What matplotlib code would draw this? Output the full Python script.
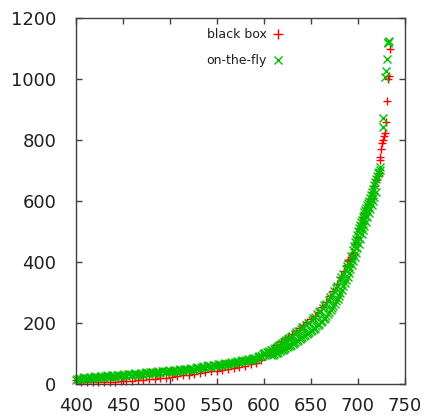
import matplotlib
matplotlib.use("Agg")
import matplotlib.pyplot as plt

# black box (red +)
bb_x = [400, 406, 412, 418, 424, 430, 436, 442, 448, 454, 460, 466, 472, 478,
        484, 490, 496, 502, 508, 514, 520, 526, 532, 538, 544, 550, 556, 562,
        568, 574, 580, 586, 592, 597, 602, 606, 610,
        614, 618, 622, 626, 630, 634, 638, 642, 646, 650, 654, 658, 662, 666,
        670, 674, 678, 682, 685, 688, 690, 691, 692, 693, 694, 695, 697, 699,
        701, 703, 705, 707, 709, 711, 713, 715, 717, 719, 721, 722.5,
        723, 723.5, 724.5, 725.5, 727, 728, 729, 730, 731, 732.5, 733, 734]
bb_y = [12, 8, 8, 8, 8, 8, 8, 8, 9, 10, 11, 12, 14, 16,
        18, 20, 21, 23, 26, 29, 31, 34, 37, 39, 42, 44, 47, 50,
        53, 56, 60, 65, 70, 80, 96, 108, 118,
        129, 138, 146, 155, 164, 173, 183, 193, 203, 213, 224, 236, 252, 268,
        287, 306, 328, 352, 370, 390, 402, 406, 411, 416, 421, 428, 458, 482,
        508, 528, 546, 560, 576, 590, 606, 628, 650, 668, 680, 690,
        735, 745, 770, 790, 800, 812, 822, 858, 928, 1000, 1008, 1098]

# on-the-fly (green x), low part of the curve
otf_low_x = [400, 403, 406, 409, 412, 415, 418, 421, 424, 427, 430, 433, 436, 439,
             442, 445, 448, 451, 454, 457, 460, 463, 466, 469, 472, 475, 478, 481,
             484, 487, 490, 493, 496, 499, 502, 505, 508, 511, 514, 517, 520, 523,
             526, 529, 532, 535, 538, 541, 544, 547, 550, 553, 556, 559, 562, 565,
             568, 571, 574, 577, 580, 583, 586, 589, 592, 595, 598,
             401.5, 404.5, 407.5, 410.5, 413.5, 416.5, 419.5, 422.5, 425.5, 428.5,
             431.5, 434.5, 437.5, 440.5, 443.5, 446.5, 449.5, 452.5, 455.5, 458.5,
             461.5, 464.5, 467.5, 470.5, 473.5, 476.5, 479.5, 482.5, 485.5, 488.5,
             491.5, 494.5, 497.5, 500.5, 503.5, 506.5, 509.5, 512.5, 515.5, 518.5,
             521.5, 524.5, 527.5, 530.5, 533.5, 536.5, 539.5, 542.5, 545.5, 548.5,
             551.5, 554.5, 557.5, 560.5, 563.5, 566.5, 569.5, 572.5, 575.5, 578.5,
             581.5, 584.5, 587.5, 590.5, 593.5, 596.5, 599.5]
otf_low_y = [14, 21, 15, 22, 17, 23, 18, 25, 20, 26, 21, 28, 23, 29,
             24, 31, 25, 32, 27, 34, 28, 35, 30, 36, 31, 38, 33, 40,
             35, 42, 36, 43, 38, 45, 39, 46, 41, 48, 43, 50, 45, 52,
             47, 55, 50, 58, 53, 61, 56, 63, 59, 66, 62, 69, 65, 72,
             68, 75, 71, 78, 74, 82, 78, 86, 83, 93, 91,
             18, 17, 20, 19, 21, 20, 23, 22, 24, 23,
             26, 25, 27, 26, 29, 27, 30, 29, 32, 30,
             33, 32, 34, 33, 36, 35, 38, 37, 40, 38,
             41, 40, 43, 41, 44, 43, 46, 45, 48, 47,
             50, 49, 52, 52, 55, 55, 58, 58, 61, 60,
             64, 63, 67, 66, 70, 69, 73, 72, 76, 75,
             79, 79, 83, 84, 89, 91, 97]

# upper strand (runs with the black box points)
otf_up_x = [600, 603, 606, 609, 612, 615, 618, 621, 624, 627, 630, 633, 636, 639,
            642, 645, 648, 651, 654, 657, 660, 663, 666, 669, 672, 675, 678, 681,
            684, 687, 690, 693, 695, 697, 699, 701, 703, 705, 707, 709, 711, 713,
            715, 717, 719, 721, 723,
            601.5, 604.5, 607.5, 610.5, 613.5, 616.5, 619.5, 622.5, 625.5, 628.5,
            634.5, 640.5, 646.5, 652.5, 658.5, 664.5, 670.5, 676.5, 682.5, 688.5,
            696, 698, 700, 702, 704, 706, 708, 710, 712, 714, 716, 718, 720, 722]
otf_up_y = [100, 104, 108, 113, 119, 125, 132, 139, 145, 151, 158, 165, 172, 180,
            187, 194, 201, 209, 218, 228, 239, 250, 262, 276, 290, 303, 320, 340,
            360, 378, 395, 420, 440, 465, 488, 510, 530, 546, 562, 578, 592, 608,
            630, 652, 672, 690, 700,
            102, 106, 110, 116, 122, 128, 135, 142, 148, 155,
            170, 186, 200, 216, 235, 258, 285, 314, 352, 388,
            452, 476, 500, 520, 538, 554, 570, 585, 600, 618, 640, 662, 680, 695]

# lower strand (on-the-fly only)
otf_lo_x = [608, 611, 614, 617, 620, 623, 626, 629, 632, 635, 638, 641, 644, 647,
            650, 653, 656, 659, 662, 665, 668, 671, 674, 677, 680, 683, 686, 689,
            692, 695, 698, 701, 704, 707, 710, 713, 716, 719,
            609.5, 612.5, 615.5, 618.5, 621.5, 624.5, 627.5, 630.5, 633.5, 636.5,
            639.5, 642.5, 645.5, 648.5, 651.5, 654.5, 657.5, 660.5, 663.5, 666.5,
            669.5, 672.5, 675.5, 678.5, 681.5, 684.5, 687.5, 690.5, 693.5, 696.5,
            699.5, 702.5, 705.5, 708.5, 711.5, 714.5, 717.5]
otf_lo_y = [94, 98, 102, 107, 112, 117, 123, 129, 135, 142, 149, 155, 161, 167,
            173, 181, 189, 198, 207, 217, 229, 241, 255, 271, 289, 309, 330, 352,
            376, 402, 430, 460, 490, 518, 546, 573, 600, 628,
            96, 100, 104, 110, 115, 120, 126, 132, 138, 145,
            152, 158, 164, 170, 177, 185, 193, 202, 212, 223,
            235, 248, 263, 280, 299, 320, 341, 364, 389, 416,
            445, 475, 504, 532, 559, 586, 614]

# sparse points at the top of the curve
otf_top_x = [724, 726.5, 727, 729, 729.5, 730.5, 732, 732.5, 733]
otf_top_y = [712, 843, 870, 1005, 1025, 1064, 1120, 1118, 1124]

otf_x = otf_low_x + otf_up_x + otf_lo_x + otf_top_x
otf_y = otf_low_y + otf_up_y + otf_lo_y + otf_top_y

fig = plt.figure(figsize=(4.24, 4.19), dpi=100)
ax = fig.add_axes([0.1785, 0.0835, 0.7765, 0.8745])

red = "#ff0000"
green = "#00c000"
ax.plot(bb_x, bb_y, linestyle="none", marker="+", ms=6, mew=1, color=red, clip_on=False)
ax.plot(otf_x, otf_y, linestyle="none", marker="x", ms=5.5, mew=1, color=green, clip_on=False)

ax.set_xlim(400, 750)
ax.set_ylim(0, 1200)
ax.set_xticks(range(400, 751, 50))
ax.set_yticks(range(0, 1201, 200))
ax.tick_params(direction="in", top=True, right=True, length=4, width=1,
               color="#404040", labelsize=13, labelcolor="#202020")
ax.tick_params(axis="y", pad=14)
ax.tick_params(axis="x", pad=9)
for s in ax.spines.values():
    s.set_color("#404040")
    s.set_linewidth(1)

# key, gnuplot style: right-justified text followed by the sample point
ax.text(0.58, 0.955, "black box", transform=ax.transAxes, ha="right", va="center",
        fontsize=9, color="#202020")
ax.plot([0.613], [0.955], transform=ax.transAxes, marker="+", ms=6.5, mew=1,
        color=red, linestyle="none")
ax.text(0.58, 0.884, "on-the-fly", transform=ax.transAxes, ha="right", va="center",
        fontsize=9, color="#202020")
ax.plot([0.613], [0.884], transform=ax.transAxes, marker="x", ms=6, mew=1,
        color=green, linestyle="none")

fig.savefig("out.png", dpi=100)
